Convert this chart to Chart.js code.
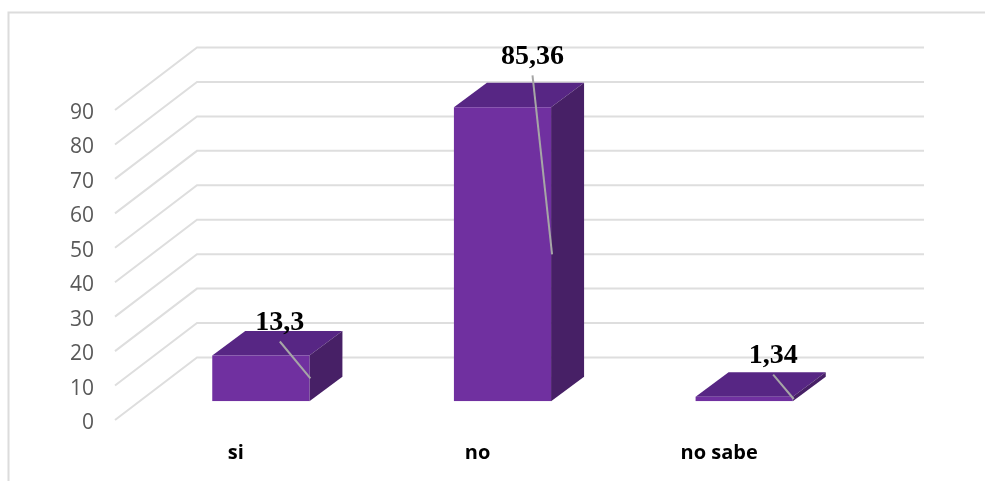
<!DOCTYPE html>
<html><head><meta charset="utf-8">
<style>html,body{margin:0;padding:0;background:#fff}#w{width:985px;height:481px}</style>
<script src="https://cdn.jsdelivr.net/npm/chart.js@4"></script></head>
<body><div id="w"><canvas id="c"></canvas></div>
<script>
const categories = ['si','no','no sabe'];
const values = [13.3,85.36,1.34];
const valueLabels = ['13,3','85,36','1,34'];
const yTicks = [0,10,20,30,40,50,60,70,80,90];
const labelLift = [33,51,41];
const labelShift = [19,30,29];

const WALL = {dx:82, dy:62.5};
const PLANE = {dx:25, dy:18.7};
const DEPTH = {dx:33, dy:24.5};

const scene = {
  id:'scene',
  beforeDraw(ch){
    const c=ch.ctx; c.save();
    c.strokeStyle='#dcdcdc'; c.lineWidth=2;
    c.beginPath(); c.moveTo(8.5,481); c.lineTo(8.5,12.5); c.lineTo(985,12.5); c.stroke();
    c.restore();
  },
  beforeDatasetsDraw(ch){
    const c=ch.ctx, y=ch.scales.y, a=ch.chartArea;
    c.save(); c.strokeStyle='#dedede'; c.lineWidth=2;
    yTicks.forEach(t=>{
      const p=y.getPixelForValue(t);
      c.beginPath(); c.moveTo(a.left,p); c.lineTo(a.left+WALL.dx,p-WALL.dy); c.lineTo(a.right+WALL.dx+2,p-WALL.dy); c.stroke();
    });
    c.restore();
  },
  beforeDatasetDraw(ch){
    const c=ch.ctx; c.save();
    c.translate(PLANE.dx,-PLANE.dy);
    ch.getDatasetMeta(0).data.forEach(b=>{
      const l=b.x-b.width/2, r=b.x+b.width/2, t=b.y, bt=b.base;
      c.fillStyle='#572684';
      c.beginPath(); c.moveTo(l,t); c.lineTo(l+DEPTH.dx,t-DEPTH.dy); c.lineTo(r+DEPTH.dx,t-DEPTH.dy); c.lineTo(r,t); c.closePath(); c.fill();
      c.fillStyle='#472066';
      c.beginPath(); c.moveTo(r,t); c.lineTo(r+DEPTH.dx,t-DEPTH.dy); c.lineTo(r+DEPTH.dx,bt-DEPTH.dy); c.lineTo(r,bt); c.closePath(); c.fill();
    });
  },
  afterDatasetDraw(ch){ ch.ctx.restore(); },
  afterDatasetsDraw(ch){
    const c=ch.ctx; c.save();
    ch.getDatasetMeta(0).data.forEach((b,i)=>{
      const cx=b.x+PLANE.dx+labelShift[i];
      const top=b.y-PLANE.dy, bot=b.base-PLANE.dy;
      const ly=top-labelLift[i];
      c.strokeStyle='#a6a6a6'; c.lineWidth=2;
      c.beginPath(); c.moveTo(cx,ly+19); c.lineTo(b.x+PLANE.dx+b.width/2+1,(top+bot)/2); c.stroke();
      c.fillStyle='#000'; c.font='bold 28px "Liberation Serif"'; c.textAlign='center'; c.textBaseline='middle';
      c.fillText(valueLabels[i],cx,ly);
    });
    c.restore();
  }
};

new Chart(document.getElementById('c'),{
  type:'bar',
  data:{labels:categories,datasets:[{data:values,backgroundColor:'#7030a0',borderWidth:0,barPercentage:0.402,categoryPercentage:1}]},
  plugins:[scene],
  options:{
    responsive:true,maintainAspectRatio:false,animation:false,
    layout:{padding:{top:110,right:145,left:0,bottom:0}},
    plugins:{legend:{display:false},tooltip:{enabled:false}},
    scales:{
      x:{grid:{display:false},border:{display:false},
        ticks:{color:'#000',font:{family:'Open Sans',weight:'bold',size:20},padding:13,maxRotation:0},
        afterFit(s){s.height=61;}},
      y:{min:0,max:90,afterBuildTicks(s){s.ticks=yTicks.map(v=>({value:v}));},
        grid:{display:false},border:{display:false},
        ticks:{color:'#595959',font:{family:'Open Sans',size:21},padding:13,labelOffset:3,autoSkip:false},
        afterFit(s){s.width=115;}}
    }
  }
});
</script></body></html>
